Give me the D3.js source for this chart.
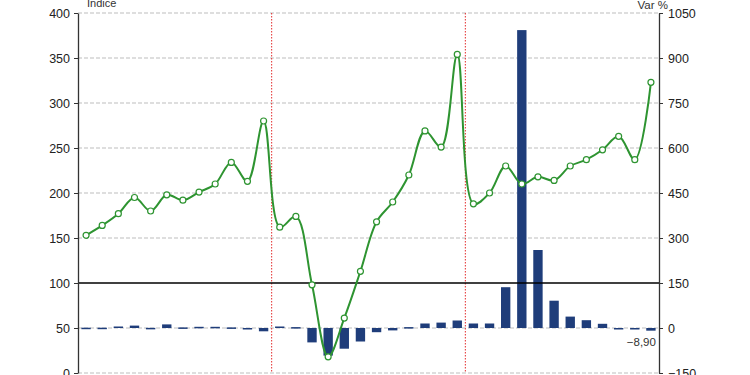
<!DOCTYPE html>
<html>
<head>
<meta charset="utf-8">
<script src="https://cdn.jsdelivr.net/npm/d3@7"></script>
<style>
  body { margin: 0; background: #fff; }
  svg { display: block; font-family: "Liberation Sans", Arial, sans-serif; }
</style>
</head>
<body>
<div id="chart"></div>
<script>
// periods (quarters), not labelled on the chart
var periods = [];
for (var yr = 2005; yr <= 2013; yr++) {
  for (var q = 1; q <= 4; q++) periods.push(yr + "T" + q);
}

// index (left axis)
var indice = [153, 164, 177, 195, 180, 198, 192, 201, 210, 234, 213, 280,
              162, 174, 98, 18, 61, 113, 168, 190, 220, 269, 251, 354,
              188, 200, 230, 210, 218, 214, 230, 237, 248, 263, 237, 323];

// variation % (right axis)
var variation = [1, 1, 5, 8, 0.5, 12, 2, 4, 4, 2, -2, -11,
                 5, 3, -48, -92, -69, -45, -14, -8, 3, 15, 18, 25,
                 15, 15, 136, 993, 260, 91, 38, 26, 14, -2, -4, -8.9];

var leftTicks = [0, 50, 100, 150, 200, 250, 300, 350, 400];
var rightTicks = [-150, 0, 150, 300, 450, 600, 750, 900, 1050];
var separators = [12, 24]; // index of first period after each red line

var W = 750, H = 375;
var margin = {top: 13, right: 91, bottom: 2, left: 78},
    width = W - margin.left - margin.right,
    height = H - margin.top - margin.bottom;

var svg = d3.select("#chart").append("svg")
    .attr("width", W)
    .attr("height", H)
  .append("g")
    .attr("transform", "translate(" + margin.left + "," + margin.top + ")");

var x = d3.scaleBand()
  .domain(periods)
  .range([0, width])
  .paddingInner(0.42)
  .paddingOuter(0.21);

var yL = d3.scaleLinear().domain([0, 400]).range([height, 0]);
var yR = d3.scaleLinear().domain([-150, 1050]).range([height, 0]);

// gridlines
svg.append("g")
  .selectAll("line")
  .data(leftTicks.filter(function(d) { return d != 100; }))
  .enter()
  .append("line")
    .attr("x1", 0)
    .attr("x2", width)
    .attr("y1", function(d) { return yL(d); })
    .attr("y2", function(d) { return yL(d); })
    .attr("stroke", "#bdbdbd")
    .attr("stroke-width", 1)
    .attr("stroke-dasharray", "4,2");

// red separators
svg.append("g")
  .selectAll("line")
  .data(separators)
  .enter()
  .append("line")
    .attr("x1", function(d) { return x(periods[d]) - x.step() * x.paddingInner() / 2; })
    .attr("x2", function(d) { return x(periods[d]) - x.step() * x.paddingInner() / 2; })
    .attr("y1", 0)
    .attr("y2", height)
    .attr("stroke", "#e32b2b")
    .attr("stroke-width", 1)
    .attr("stroke-dasharray", "1.5,1.5");

// bars
svg.append("g")
  .selectAll("rect")
  .data(variation)
  .enter()
  .append("rect")
    .attr("x", function(d, i) { return x(periods[i]); })
    .attr("y", function(d) { return Math.min(yR(d), yR(0)); })
    .attr("width", x.bandwidth())
    .attr("height", function(d) { return Math.max(1.5, Math.abs(yR(d) - yR(0))); })
    .attr("fill", "#1f3d7a");

// solid line at 100
svg.append("line")
  .attr("x1", 0)
  .attr("x2", width)
  .attr("y1", yL(100))
  .attr("y2", yL(100))
  .attr("stroke", "#000")
  .attr("stroke-width", 1.4);

// index line
var cx = function(d, i) { return x(periods[i]) + x.bandwidth() / 2; };

svg.append("path")
  .datum(indice)
  .attr("fill", "none")
  .attr("stroke", "#2e9431")
  .attr("stroke-width", 2)
  .attr("d", d3.line()
    .x(cx)
    .y(function(d) { return yL(d); })
    .curve(d3.curveCatmullRom.alpha(0.5)));

svg.append("g")
  .selectAll("circle")
  .data(indice)
  .enter()
  .append("circle")
    .attr("cx", cx)
    .attr("cy", function(d) { return yL(d); })
    .attr("r", 3)
    .attr("fill", "#fff")
    .attr("stroke", "#2e9431")
    .attr("stroke-width", 1.2);

// last value label
var last = variation.length - 1;
svg.append("text")
  .attr("x", x(periods[last]) + x.bandwidth() / 2 + 5)
  .attr("y", yR(variation[last]) + 15)
  .attr("text-anchor", "end")
  .attr("font-size", 11.5)
  .attr("fill", "#333")
  .text(d3.format(".2f")(variation[last]).replace(".", ","));

// axes
var leftAxis = svg.append("g")
  .call(d3.axisLeft(yL).tickValues(leftTicks).tickFormat(d3.format("d"))
    .tickSize(4).tickPadding(4).tickSizeOuter(0));
var rightAxis = svg.append("g")
  .attr("transform", "translate(" + width + ",0)")
  .call(d3.axisRight(yR).tickValues(rightTicks).tickFormat(d3.format("d"))
    .tickSize(4).tickPadding(5).tickSizeOuter(0));

[leftAxis, rightAxis].forEach(function(a) {
  a.select(".domain").attr("stroke", "#333").attr("stroke-width", 1.3);
  a.selectAll(".tick line").attr("stroke", "#333");
  a.selectAll(".tick text")
    .attr("fill", "#222")
    .style("font-size", "12.5px")
    .style("font-family", "'Liberation Sans', Arial, sans-serif");
});

// axis titles
svg.append("text")
  .attr("x", 9)
  .attr("y", -6)
  .attr("font-size", 11)
  .attr("fill", "#333")
  .text("Indice");

svg.append("text")
  .attr("x", width + 9)
  .attr("y", -4)
  .attr("text-anchor", "end")
  .attr("font-size", 11.5)
  .attr("fill", "#333")
  .text("Var %");
</script>
</body>
</html>
